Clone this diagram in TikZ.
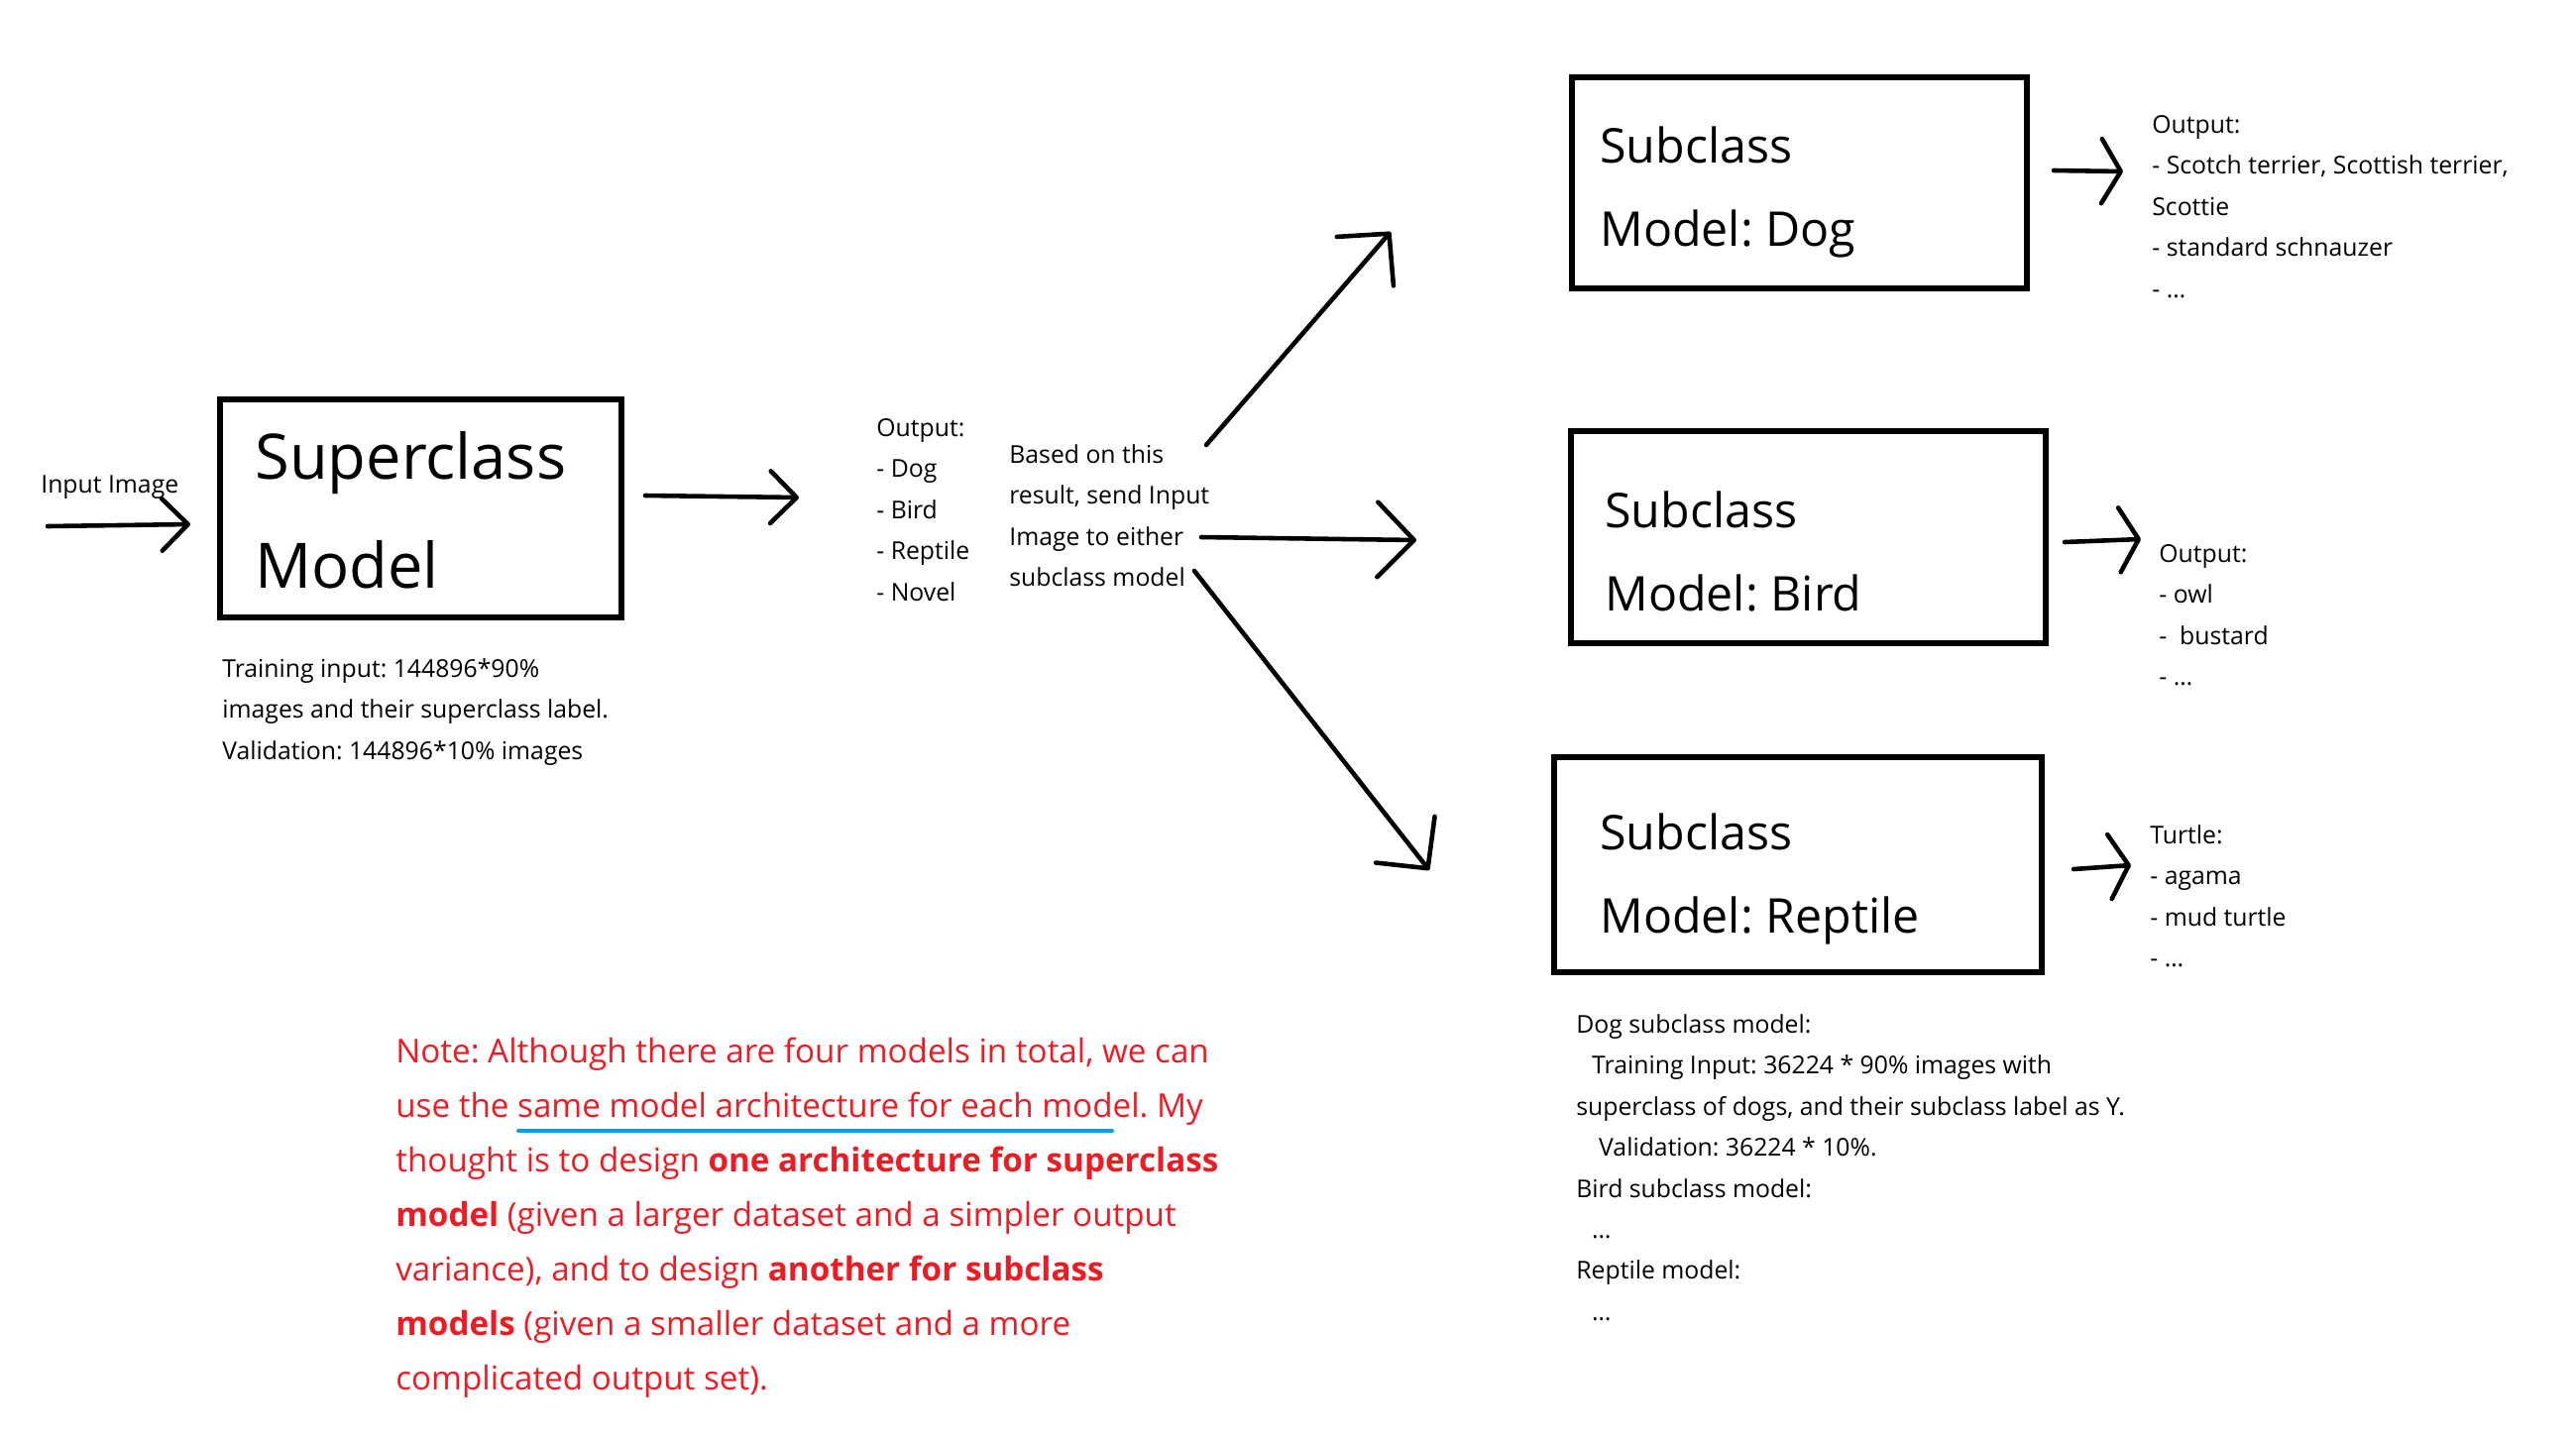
\documentclass[tikz,border=0pt]{standalone}
\usepackage{fontspec}
\setmainfont{Open Sans}
\usetikzlibrary{arrows.meta,fit}
\definecolor{notered}{RGB}{237,28,36}
\definecolor{markblue}{RGB}{0,162,232}
\newcommand{\txtbig}{\fontsize{36pt}{62.6pt}\selectfont}
\newcommand{\txtsub}{\fontsize{27.5pt}{48pt}\selectfont}
\newcommand{\txtsmall}{\fontsize{14.1pt}{23.6pt}\selectfont}
\newcommand{\txtnote}{\fontsize{18.9pt}{31.3pt}\selectfont}
\frenchspacing

\begin{document}
\begin{tikzpicture}[x=0.02cm, y=-0.02cm]
\tikzstyle{modelbox}=[draw, line width=3pt, inner sep=0pt]
\tikzstyle{boxtext}=[anchor=north west, inner sep=0pt, align=left, font=\txtsub]
\tikzstyle{info}=[anchor=north west, inner sep=0pt, align=left, font=\txtsmall]
\tikzstyle{bigflow}=[draw, line width=2.6pt, line cap=round, -{Straight Barb[round, length=21pt, width=43pt]}]
\tikzstyle{midflow}=[draw, line width=2.6pt, line cap=round, -{Straight Barb[round, length=15pt, width=30pt]}]
\tikzstyle{smallflow}=[draw, line width=2.6pt, line cap=round, -{Straight Barb[round, length=11pt, width=37pt]}]

\useasboundingbox (0,0) rectangle (2599,1451);

% Define models
\node[modelbox, fit={(222,403) (627,623)}] (superbox) {};
\node[modelbox, fit={(1586,78) (2045,291)}] (dogbox) {};
\node[modelbox, fit={(1585,435) (2064,649)}] (birdbox) {};
\node[modelbox, fit={(1568,764) (2060,981)}] (reptbox) {};

\node[boxtext, font=\txtbig] (supertext) at (257,435) {Superclass\\Model};
\node[boxtext] (dogtext) at (1614,127) {Subclass\\Model: Dog};
\node[boxtext] (birdtext) at (1619,495) {Subclass\\Model: Bird};
\node[boxtext] (repttext) at (1614,820) {Subclass\\Model: Reptile};

% Texts
\node[info] (inputlabel) at (41,479) {Input Image};
\node[info] (traininfo) at (224,664) {Training input: 144896*90\%\\images and their superclass label.\\Validation: 144896*10\% images};
\node[info] (superout) at (884,422) {Output:\\- Dog\\- Bird\\- Reptile\\- Novel};
\node[info] (routing) at (1018,448) {Based on this\\result, send Input\\Image to either\\subclass model};
\node[info] (dogout) at (2171,116) {Output:\\- Scotch terrier, Scottish terrier,\\Scottie\\- standard schnauzer\\- …};
\node[info] (birdout) at (2178,549) {Output:\\- owl\\-\ \ bustard\\- …};
\node[info] (reptout) at (2169,832) {Turtle:\\- agama\\- mud turtle\\- …};
\node[info] (subinfo) at (1590,1023) {Dog subclass model:\\
  \hspace*{9pt}Training Input: 36224 * 90\% images with\\
  superclass of dogs, and their subclass label as Y.\\
  \hspace*{13pt}Validation: 36224 * 10\%.\\
  Bird subclass model:\\
  \hspace*{9pt}…\\
  Reptile model:\\
  \hspace*{9pt}…};

% Note
\node[info, font=\txtnote, text=notered] (note) at (399,1047) {Note: Although there are four models in total, we can\\
  use the same model architecture for each model. My\\
  thought is to design \textbf{one architecture for superclass}\\
  \textbf{model} (given a larger dataset and a simpler output\\
  variance), and to design \textbf{another for subclass}\\
  \textbf{models} (given a smaller dataset and a more\\
  complicated output set).};
\coordinate (mark-a) at (523,1141);
\coordinate (mark-b) at (1122,1141);
\draw[markblue, line width=2.3pt, line cap=round] (mark-a) -- (mark-b);

% Arrow ends
\coordinate (in-a) at (48,531);
\coordinate (in-b) at (192,529);
\coordinate (sup-a) at (651,500);
\coordinate (sup-b) at (806,502);
\coordinate (up-a) at (1217,449);
\coordinate (up-b) at (1403,234);
\coordinate (mid-a) at (1212,542);
\coordinate (mid-b) at (1429,545);
\coordinate (down-a) at (1205,576);
\coordinate (down-b) at (1442,878);
\coordinate (dog-a) at (2072,172);
\coordinate (dog-b) at (2142,173);
\coordinate (bird-a) at (2083,547);
\coordinate (bird-b) at (2160,544);
\coordinate (rept-a) at (2092,877);
\coordinate (rept-b) at (2150,873);

% Arrows
\draw[midflow] (in-a) -- (in-b);
\draw[midflow] (sup-a) -- (sup-b);
\draw[bigflow] (up-a) -- (up-b);
\draw[bigflow] (mid-a) -- (mid-b);
\draw[bigflow] (down-a) -- (down-b);
\draw[smallflow] (dog-a) -- (dog-b);
\draw[smallflow] (bird-a) -- (bird-b);
\draw[smallflow] (rept-a) -- (rept-b);
\end{tikzpicture}
\end{document}
